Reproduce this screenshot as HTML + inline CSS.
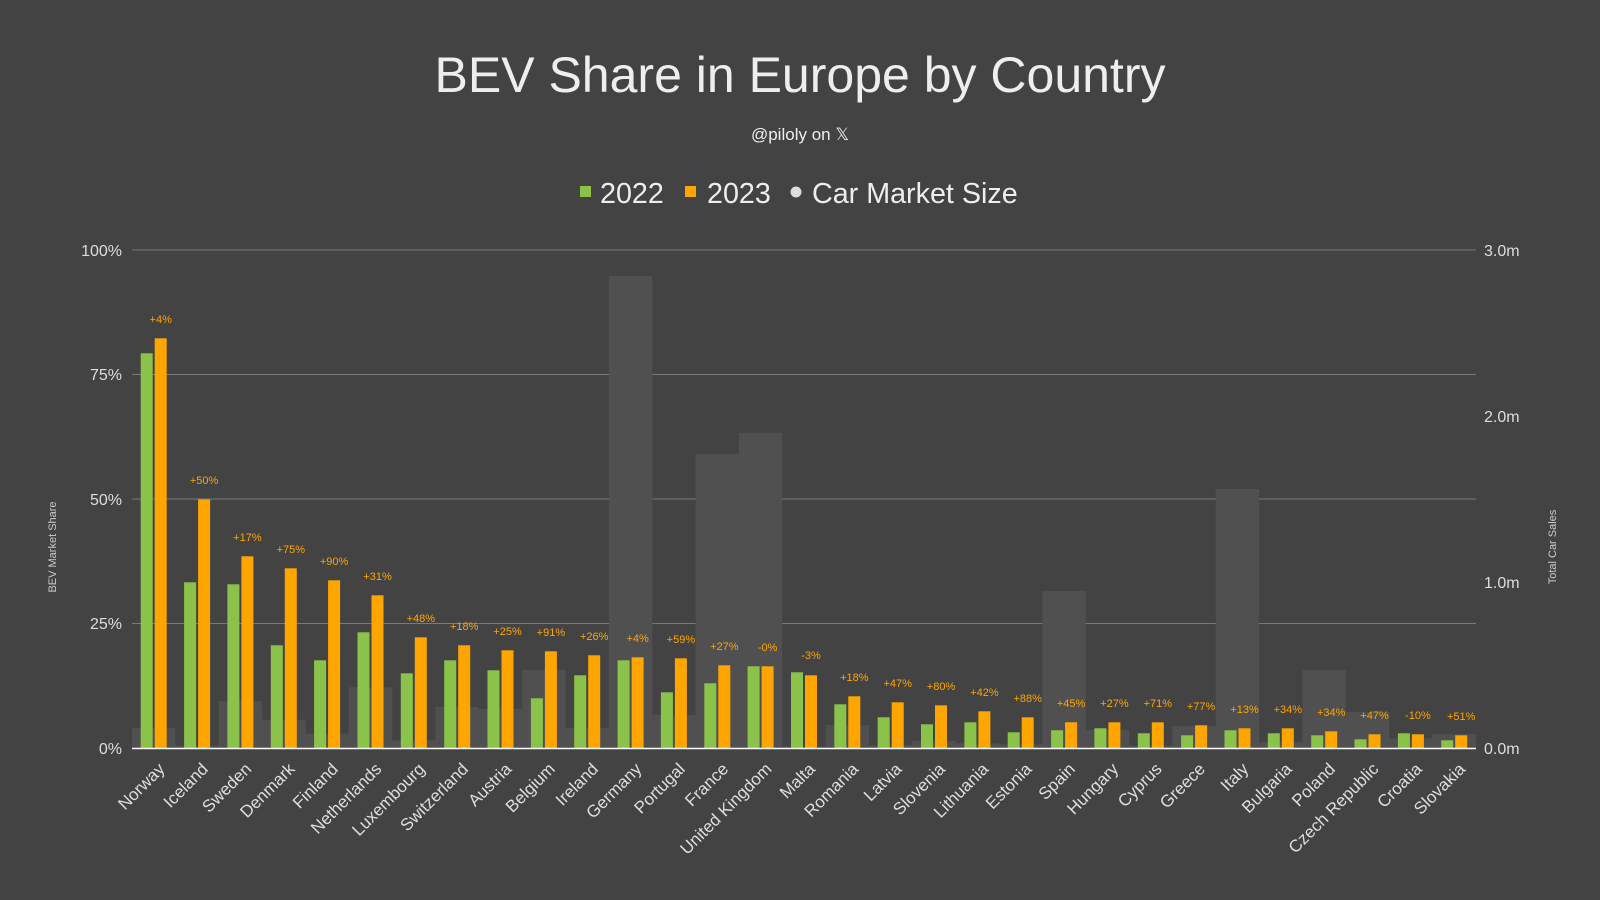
<!DOCTYPE html>
<html><head><meta charset="utf-8"><style>
html,body{margin:0;padding:0;background:#434343;}
svg{display:block;font-family:"Liberation Sans",sans-serif;}
.g{fill:#505050}.a{fill:#8bc34a}.b{fill:#ffa500}
.l{fill:#ffa500;font-size:11px;text-anchor:middle}
.c{fill:#dedede;font-size:17px;text-anchor:end}
</style></head><body>
<svg width="1600" height="900" viewBox="0 0 1600 900">
<rect width="1600" height="900" fill="#434343"/>
<text x="800" y="92" fill="#eeeeee" font-size="50" text-anchor="middle">BEV Share in Europe by Country</text>
<text x="800" y="140" fill="#eeeeee" font-size="17" text-anchor="middle">@piloly on 𝕏</text>
<rect x="580" y="186" width="11" height="11" fill="#8bc34a"/>
<text x="600" y="203" fill="#eeeeee" font-size="28.7">2022</text>
<rect x="685" y="186" width="11" height="11" fill="#ffa500"/>
<text x="707" y="203" fill="#eeeeee" font-size="28.7">2023</text>
<circle cx="796" cy="192" r="5.5" fill="#dddddd"/>
<text x="812" y="203" fill="#eeeeee" font-size="28.7">Car Market Size</text>
<g stroke="#7a7a7a" stroke-width="1">
<line x1="132" y1="250" x2="1476" y2="250"/><line x1="132" y1="374.5" x2="1476" y2="374.5"/><line x1="132" y1="499" x2="1476" y2="499"/><line x1="132" y1="623.5" x2="1476" y2="623.5"/>
</g>
<g fill="#dddddd" font-size="16" text-anchor="end">
<text x="122" y="256">100%</text><text x="122" y="380">75%</text><text x="122" y="505">50%</text><text x="122" y="629">25%</text><text x="122" y="754">0%</text>
</g>
<g fill="#dddddd" font-size="16">
<text x="1484" y="256">3.0m</text><text x="1484" y="422">2.0m</text><text x="1484" y="588">1.0m</text><text x="1484" y="754">0.0m</text>
</g>
<text transform="translate(56,547) rotate(-90)" fill="#cccccc" font-size="11" text-anchor="middle">BEV Market Share</text>
<text transform="translate(1556,547) rotate(-90)" fill="#cccccc" font-size="11" text-anchor="middle">Total Car Sales</text>

<g transform="translate(153.7,0)"><rect class="g" x="-21.7" y="728" width="43.4" height="20.5"/><rect class="a" x="-13" y="353.3" width="12" height="395.2"/><rect class="b" x="1" y="338.3" width="12" height="410.2"/><text class="l" x="7" y="323">+4%</text><text class="c" transform="translate(3,761) rotate(-45)" dy="0.75em">Norway</text></g>
<g transform="translate(197.1,0)"><rect class="g" x="-21.7" y="745.7" width="43.4" height="2.8"/><rect class="a" x="-13" y="582.3" width="12" height="166.2"/><rect class="b" x="1" y="499.5" width="12" height="249"/><text class="l" x="7" y="484">+50%</text><text class="c" transform="translate(3,761) rotate(-45)" dy="0.75em">Iceland</text></g>
<g transform="translate(240.4,0)"><rect class="g" x="-21.7" y="701" width="43.4" height="47.5"/><rect class="a" x="-13" y="584.3" width="12" height="164.2"/><rect class="b" x="1" y="556.3" width="12" height="192.2"/><text class="l" x="7" y="541">+17%</text><text class="c" transform="translate(3,761) rotate(-45)" dy="0.75em">Sweden</text></g>
<g transform="translate(283.8,0)"><rect class="g" x="-21.7" y="719.7" width="43.4" height="28.8"/><rect class="a" x="-13" y="645.3" width="12" height="103.2"/><rect class="b" x="1" y="568.3" width="12" height="180.2"/><text class="l" x="7" y="553">+75%</text><text class="c" transform="translate(3,761) rotate(-45)" dy="0.75em">Denmark</text></g>
<g transform="translate(327.1,0)"><rect class="g" x="-21.7" y="733.7" width="43.4" height="14.8"/><rect class="a" x="-13" y="660.3" width="12" height="88.2"/><rect class="b" x="1" y="580.3" width="12" height="168.2"/><text class="l" x="7" y="565">+90%</text><text class="c" transform="translate(3,761) rotate(-45)" dy="0.75em">Finland</text></g>
<g transform="translate(370.5,0)"><rect class="g" x="-21.7" y="687.3" width="43.4" height="61.2"/><rect class="a" x="-13" y="632.3" width="12" height="116.2"/><rect class="b" x="1" y="595.3" width="12" height="153.2"/><text class="l" x="7" y="580">+31%</text><text class="c" transform="translate(3,761) rotate(-45)" dy="0.75em">Netherlands</text></g>
<g transform="translate(413.8,0)"><rect class="g" x="-21.7" y="740.3" width="43.4" height="8.2"/><rect class="a" x="-13" y="673.3" width="12" height="75.2"/><rect class="b" x="1" y="637.3" width="12" height="111.2"/><text class="l" x="7" y="622">+48%</text><text class="c" transform="translate(3,761) rotate(-45)" dy="0.75em">Luxembourg</text></g>
<g transform="translate(457.2,0)"><rect class="g" x="-21.7" y="707" width="43.4" height="41.5"/><rect class="a" x="-13" y="660.3" width="12" height="88.2"/><rect class="b" x="1" y="645.3" width="12" height="103.2"/><text class="l" x="7" y="630">+18%</text><text class="c" transform="translate(3,761) rotate(-45)" dy="0.75em">Switzerland</text></g>
<g transform="translate(500.5,0)"><rect class="g" x="-21.7" y="709" width="43.4" height="39.5"/><rect class="a" x="-13" y="670.3" width="12" height="78.2"/><rect class="b" x="1" y="650.3" width="12" height="98.2"/><text class="l" x="7" y="635">+25%</text><text class="c" transform="translate(3,761) rotate(-45)" dy="0.75em">Austria</text></g>
<g transform="translate(543.9,0)"><rect class="g" x="-21.7" y="669.7" width="43.4" height="78.8"/><rect class="a" x="-13" y="698.3" width="12" height="50.2"/><rect class="b" x="1" y="651.3" width="12" height="97.2"/><text class="l" x="7" y="636">+91%</text><text class="c" transform="translate(3,761) rotate(-45)" dy="0.75em">Belgium</text></g>
<g transform="translate(587.2,0)"><rect class="g" x="-21.7" y="728" width="43.4" height="20.5"/><rect class="a" x="-13" y="675.3" width="12" height="73.2"/><rect class="b" x="1" y="655.3" width="12" height="93.2"/><text class="l" x="7" y="640">+26%</text><text class="c" transform="translate(3,761) rotate(-45)" dy="0.75em">Ireland</text></g>
<g transform="translate(630.6,0)"><rect class="g" x="-21.7" y="276" width="43.4" height="472.5"/><rect class="a" x="-13" y="660.3" width="12" height="88.2"/><rect class="b" x="1" y="657.3" width="12" height="91.2"/><text class="l" x="7" y="642">+4%</text><text class="c" transform="translate(3,761) rotate(-45)" dy="0.75em">Germany</text></g>
<g transform="translate(673.9,0)"><rect class="g" x="-21.7" y="715" width="43.4" height="33.5"/><rect class="a" x="-13" y="692.3" width="12" height="56.2"/><rect class="b" x="1" y="658.3" width="12" height="90.2"/><text class="l" x="7" y="643">+59%</text><text class="c" transform="translate(3,761) rotate(-45)" dy="0.75em">Portugal</text></g>
<g transform="translate(717.3,0)"><rect class="g" x="-21.7" y="454" width="43.4" height="294.5"/><rect class="a" x="-13" y="683.3" width="12" height="65.2"/><rect class="b" x="1" y="665.3" width="12" height="83.2"/><text class="l" x="7" y="650">+27%</text><text class="c" transform="translate(3,761) rotate(-45)" dy="0.75em">France</text></g>
<g transform="translate(760.6,0)"><rect class="g" x="-21.7" y="432.7" width="43.4" height="315.8"/><rect class="a" x="-13" y="666.3" width="12" height="82.2"/><rect class="b" x="1" y="666.3" width="12" height="82.2"/><text class="l" x="7" y="651">-0%</text><text class="c" transform="translate(3,761) rotate(-45)" dy="0.75em">United Kingdom</text></g>
<g transform="translate(804.0,0)"><rect class="g" x="-21.7" y="746.5" width="43.4" height="2"/><rect class="a" x="-13" y="672.3" width="12" height="76.2"/><rect class="b" x="1" y="675.3" width="12" height="73.2"/><text class="l" x="7" y="659">-3%</text><text class="c" transform="translate(3,761) rotate(-45)" dy="0.75em">Malta</text></g>
<g transform="translate(847.3,0)"><rect class="g" x="-21.7" y="725" width="43.4" height="23.5"/><rect class="a" x="-13" y="704.3" width="12" height="44.2"/><rect class="b" x="1" y="696.3" width="12" height="52.2"/><text class="l" x="7" y="681">+18%</text><text class="c" transform="translate(3,761) rotate(-45)" dy="0.75em">Romania</text></g>
<g transform="translate(890.7,0)"><rect class="g" x="-21.7" y="745" width="43.4" height="3.5"/><rect class="a" x="-13" y="717.3" width="12" height="31.2"/><rect class="b" x="1" y="702.3" width="12" height="46.2"/><text class="l" x="7" y="687">+47%</text><text class="c" transform="translate(3,761) rotate(-45)" dy="0.75em">Latvia</text></g>
<g transform="translate(934.0,0)"><rect class="g" x="-21.7" y="741" width="43.4" height="7.5"/><rect class="a" x="-13" y="724.3" width="12" height="24.2"/><rect class="b" x="1" y="705.3" width="12" height="43.2"/><text class="l" x="7" y="690">+80%</text><text class="c" transform="translate(3,761) rotate(-45)" dy="0.75em">Slovenia</text></g>
<g transform="translate(977.4,0)"><rect class="g" x="-21.7" y="743.3" width="43.4" height="5.2"/><rect class="a" x="-13" y="722.3" width="12" height="26.2"/><rect class="b" x="1" y="711.3" width="12" height="37.2"/><text class="l" x="7" y="696">+42%</text><text class="c" transform="translate(3,761) rotate(-45)" dy="0.75em">Lithuania</text></g>
<g transform="translate(1020.7,0)"><rect class="g" x="-21.7" y="744.3" width="43.4" height="4.2"/><rect class="a" x="-13" y="732.3" width="12" height="16.2"/><rect class="b" x="1" y="717.3" width="12" height="31.2"/><text class="l" x="7" y="702">+88%</text><text class="c" transform="translate(3,761) rotate(-45)" dy="0.75em">Estonia</text></g>
<g transform="translate(1064.1,0)"><rect class="g" x="-21.7" y="591" width="43.4" height="157.5"/><rect class="a" x="-13" y="730.3" width="12" height="18.2"/><rect class="b" x="1" y="722.3" width="12" height="26.2"/><text class="l" x="7" y="707">+45%</text><text class="c" transform="translate(3,761) rotate(-45)" dy="0.75em">Spain</text></g>
<g transform="translate(1107.4,0)"><rect class="g" x="-21.7" y="730" width="43.4" height="18.5"/><rect class="a" x="-13" y="728.3" width="12" height="20.2"/><rect class="b" x="1" y="722.3" width="12" height="26.2"/><text class="l" x="7" y="707">+27%</text><text class="c" transform="translate(3,761) rotate(-45)" dy="0.75em">Hungary</text></g>
<g transform="translate(1150.8,0)"><rect class="g" x="-21.7" y="745.7" width="43.4" height="2.8"/><rect class="a" x="-13" y="733.3" width="12" height="15.2"/><rect class="b" x="1" y="722.3" width="12" height="26.2"/><text class="l" x="7" y="707">+71%</text><text class="c" transform="translate(3,761) rotate(-45)" dy="0.75em">Cyprus</text></g>
<g transform="translate(1194.1,0)"><rect class="g" x="-21.7" y="726" width="43.4" height="22.5"/><rect class="a" x="-13" y="735.3" width="12" height="13.2"/><rect class="b" x="1" y="725.3" width="12" height="23.2"/><text class="l" x="7" y="710">+77%</text><text class="c" transform="translate(3,761) rotate(-45)" dy="0.75em">Greece</text></g>
<g transform="translate(1237.5,0)"><rect class="g" x="-21.7" y="489" width="43.4" height="259.5"/><rect class="a" x="-13" y="730.3" width="12" height="18.2"/><rect class="b" x="1" y="728.3" width="12" height="20.2"/><text class="l" x="7" y="713">+13%</text><text class="c" transform="translate(3,761) rotate(-45)" dy="0.75em">Italy</text></g>
<g transform="translate(1280.8,0)"><rect class="g" x="-21.7" y="742.3" width="43.4" height="6.2"/><rect class="a" x="-13" y="733.3" width="12" height="15.2"/><rect class="b" x="1" y="728.3" width="12" height="20.2"/><text class="l" x="7" y="713">+34%</text><text class="c" transform="translate(3,761) rotate(-45)" dy="0.75em">Bulgaria</text></g>
<g transform="translate(1324.2,0)"><rect class="g" x="-21.7" y="670" width="43.4" height="78.5"/><rect class="a" x="-13" y="735.3" width="12" height="13.2"/><rect class="b" x="1" y="731.3" width="12" height="17.2"/><text class="l" x="7" y="716">+34%</text><text class="c" transform="translate(3,761) rotate(-45)" dy="0.75em">Poland</text></g>
<g transform="translate(1367.5,0)"><rect class="g" x="-21.7" y="712" width="43.4" height="36.5"/><rect class="a" x="-13" y="739.3" width="12" height="9.2"/><rect class="b" x="1" y="734.3" width="12" height="14.2"/><text class="l" x="7" y="719">+47%</text><text class="c" transform="translate(3,761) rotate(-45)" dy="0.75em">Czech Republic</text></g>
<g transform="translate(1410.9,0)"><rect class="g" x="-21.7" y="738.3" width="43.4" height="10.2"/><rect class="a" x="-13" y="733.3" width="12" height="15.2"/><rect class="b" x="1" y="734.3" width="12" height="14.2"/><text class="l" x="7" y="719">-10%</text><text class="c" transform="translate(3,761) rotate(-45)" dy="0.75em">Croatia</text></g>
<g transform="translate(1454.2,0)"><rect class="g" x="-21.7" y="734" width="43.4" height="14.5"/><rect class="a" x="-13" y="740.3" width="12" height="8.2"/><rect class="b" x="1" y="735.3" width="12" height="13.2"/><text class="l" x="7" y="720">+51%</text><text class="c" transform="translate(3,761) rotate(-45)" dy="0.75em">Slovakia</text></g>

<line x1="132" y1="748.5" x2="1476" y2="748.5" stroke="#ffffff" stroke-width="1.5"/>
</svg>
</body></html>
